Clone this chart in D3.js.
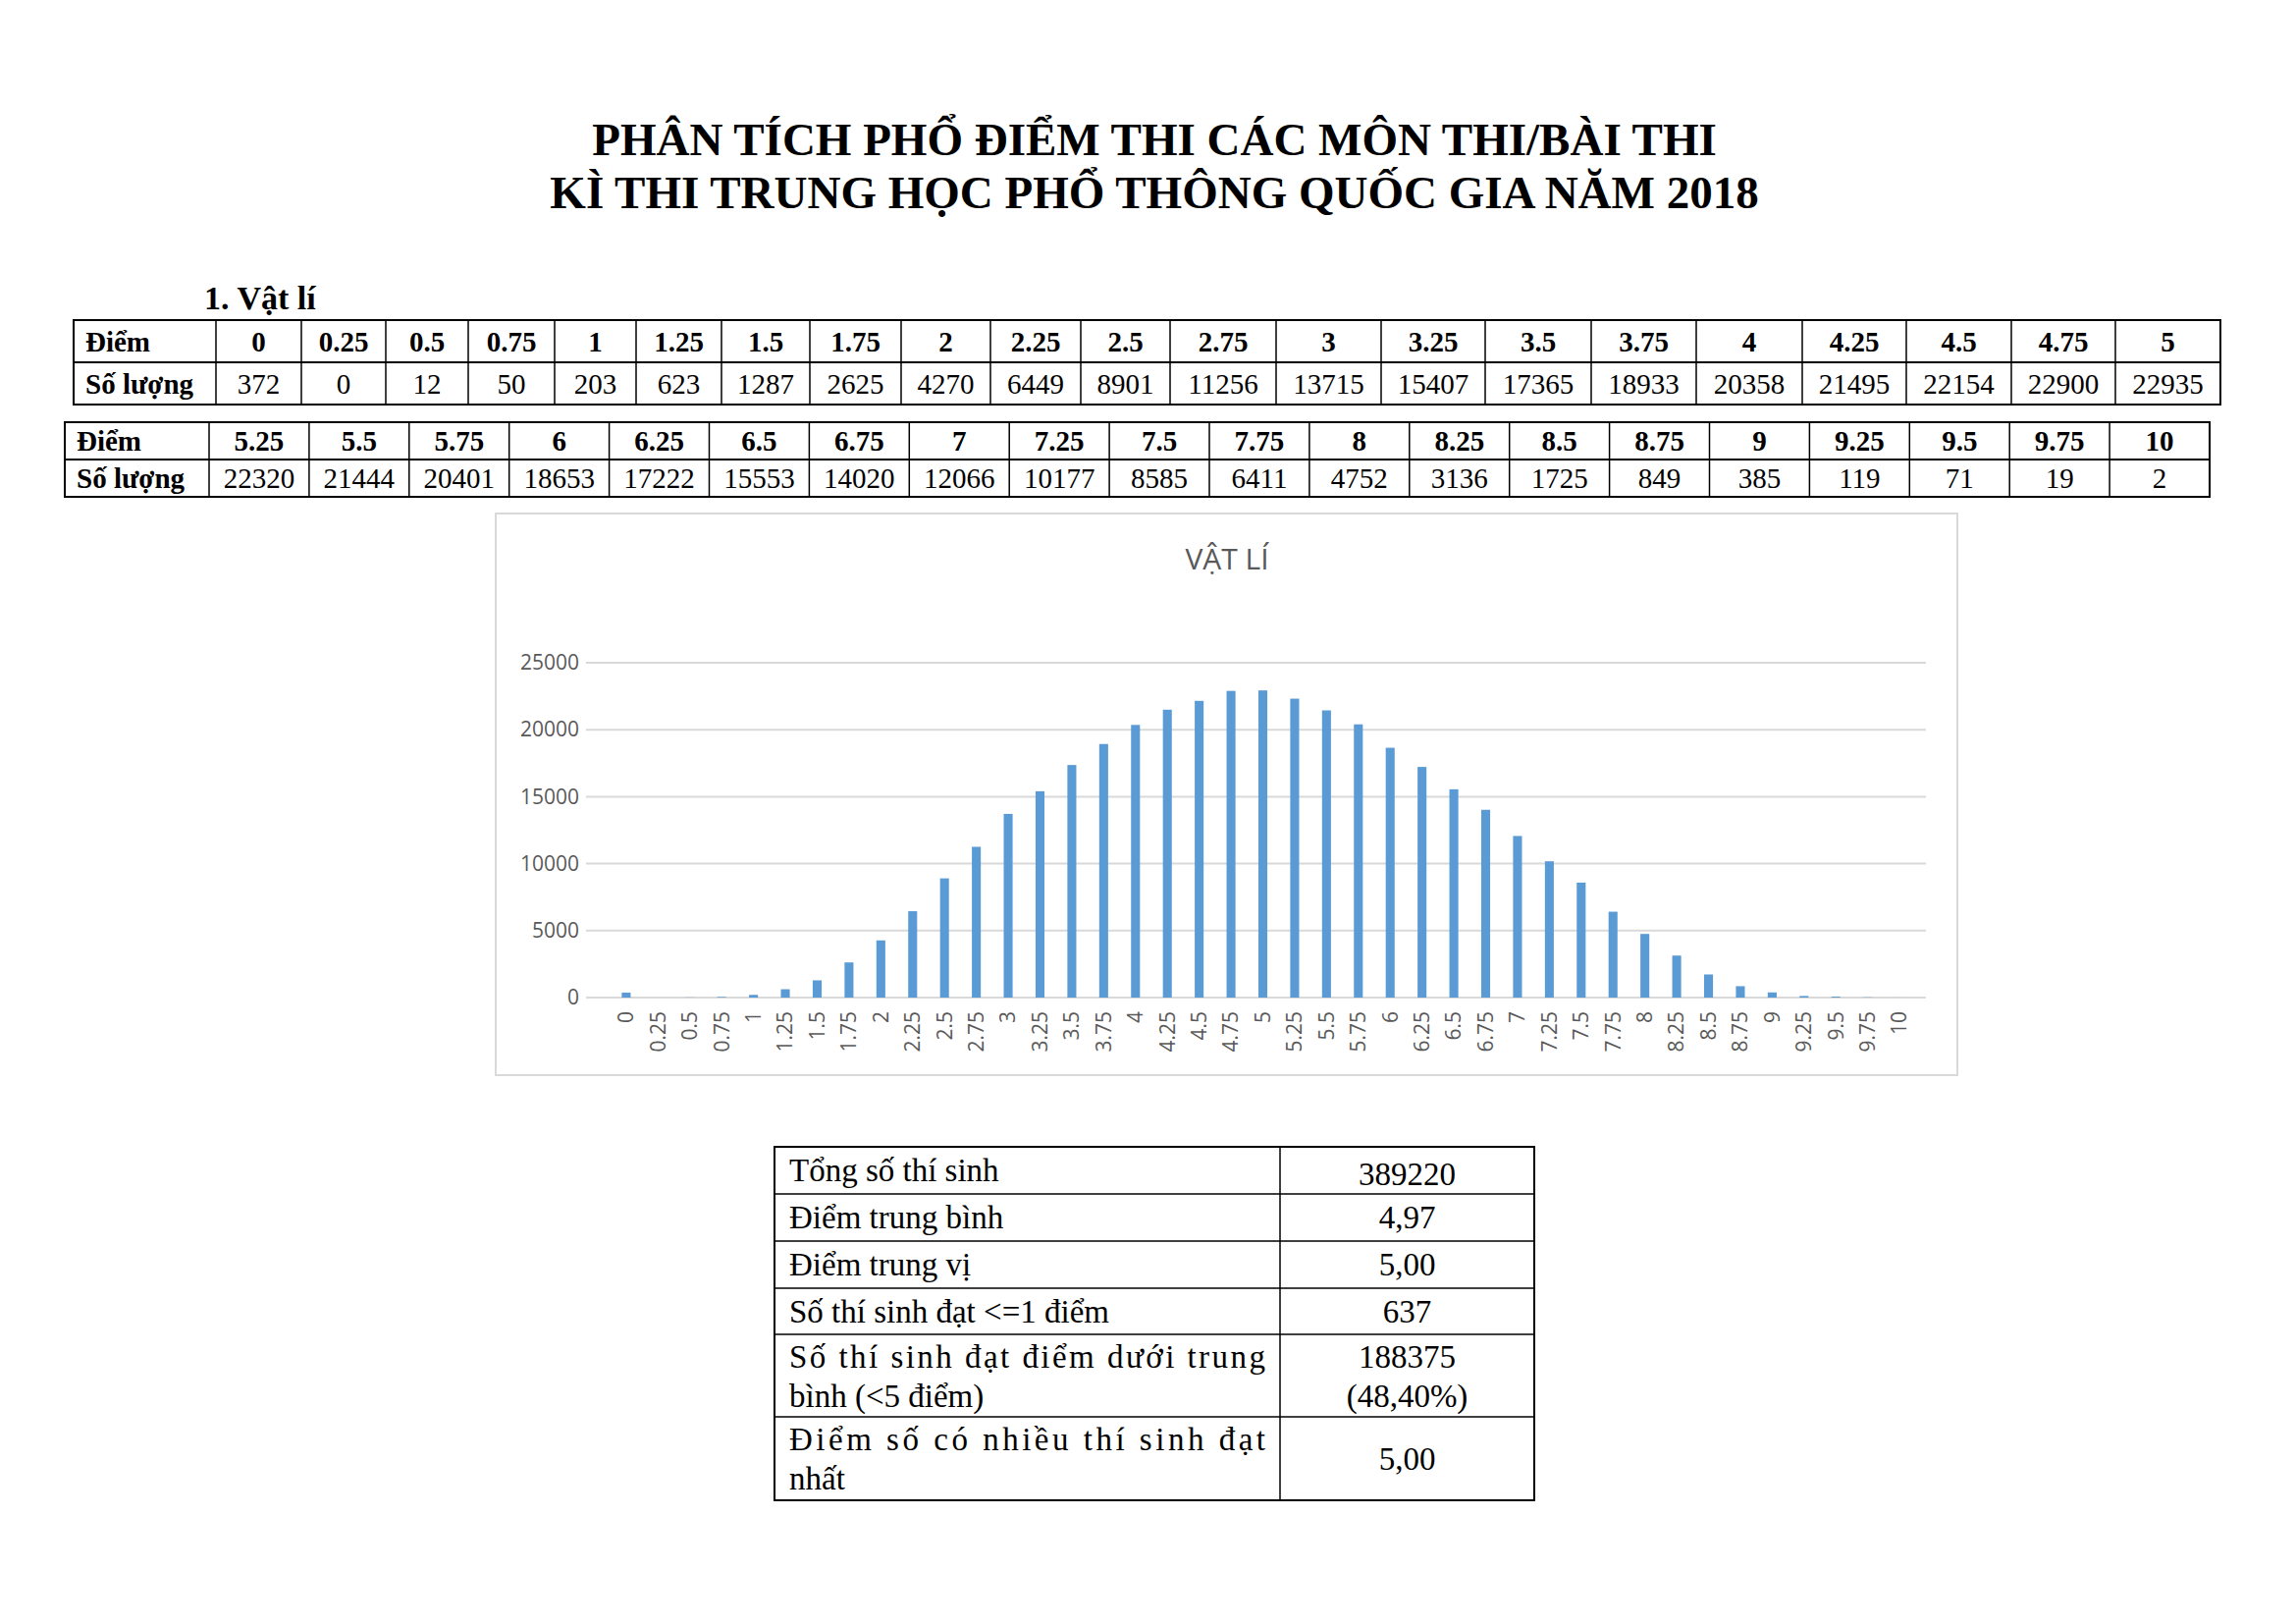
<!DOCTYPE html>
<html><head><meta charset="utf-8">
<script src="https://cdn.jsdelivr.net/npm/d3@7"></script>
<style>body{margin:0;background:#fff}</style>
</head><body>
<div id="page"></div>
<script>
var scores = ["0","0.25","0.5","0.75","1","1.25","1.5","1.75","2","2.25","2.5","2.75","3","3.25","3.5","3.75","4","4.25","4.5","4.75","5",
  "5.25","5.5","5.75","6","6.25","6.5","6.75","7","7.25","7.5","7.75","8","8.25","8.5","8.75","9","9.25","9.5","9.75","10"];
var counts = [372,0,12,50,203,623,1287,2625,4270,6449,8901,11256,13715,15407,17365,18933,20358,21495,22154,22900,22935,
  22320,21444,20401,18653,17222,15553,14020,12066,10177,8585,6411,4752,3136,1725,849,385,119,71,19,2];
var yTicks = [0,5000,10000,15000,20000,25000];
var titleLines = ["PHÂN TÍCH PHỔ ĐIỂM THI CÁC MÔN THI/BÀI THI","KÌ THI TRUNG HỌC PHỔ THÔNG QUỐC GIA NĂM 2018"];
var statLabels = [["Tổng số thí sinh"],["Điểm trung bình"],["Điểm trung vị"],["Số thí sinh đạt <=1 điểm"],
  ["Số thí sinh đạt điểm dưới trung","bình (<5 điểm)"],["Điểm số có nhiều thí sinh đạt","nhất"]];
var statValues = [["389220"],["4,97"],["5,00"],["637"],["188375","(48,40%)"],["5,00"]];

var W = 2339, H = 1654, serif = "'Liberation Serif','Times New Roman',serif";
var svg = d3.select("#page").append("svg").attr("width", W).attr("height", H);

svg.selectAll("text.title").data(titleLines).join("text")
  .attr("x", 1176).attr("y", function(d,i){ return 158 + i*54; })
  .attr("text-anchor","middle").attr("font-family", serif).attr("font-weight","bold")
  .attr("font-size", 47).text(function(d){ return d; });

svg.append("text").attr("x", 208).attr("y", 315).attr("font-family", serif)
  .attr("font-weight","bold").attr("font-size", 34).text("1.  Vật lí");

// score tables
function scoreTable(edges, top, rowH, labels, vals) {
  var g = svg.append("g");
  var x0 = edges[0], x1 = edges[edges.length-1];
  g.append("rect").attr("x", x0).attr("y", top).attr("width", x1-x0).attr("height", rowH*2)
    .attr("fill","none").attr("stroke","#000").attr("stroke-width",2);
  g.append("line").attr("x1",x0).attr("x2",x1).attr("y1",top+rowH).attr("y2",top+rowH).attr("stroke","#000").attr("stroke-width",2);
  edges.slice(1,-1).forEach(function(e){
    g.append("line").attr("x1",e).attr("x2",e).attr("y1",top).attr("y2",top+rowH*2).attr("stroke","#000").attr("stroke-width",1.5);
  });
  var row1 = ["Điểm"].concat(labels), row2 = ["Số lượng"].concat(vals);
  [row1,row2].forEach(function(row, r){
    row.forEach(function(t, i){
      var first = i === 0;
      g.append("text")
        .attr("x", first ? edges[0]+12 : (edges[i]+edges[i+1])/2)
        .attr("y", top + r*rowH + rowH*0.75)
        .attr("text-anchor", first ? "start" : "middle")
        .attr("font-family", serif).attr("font-size", 29)
        .attr("font-weight", (r===0 || first) ? "bold" : "normal")
        .text(t);
    });
  });
}
var e1 = [75,220,307,393,477,565,648,735,825,918,1009,1101,1192,1300,1407,1513,1621,1728,1836,1942,2049,2155,2262];
var e2 = [66].concat(d3.range(21).map(function(i){ return 213 + i*(2251-213)/20; }));
scoreTable(e1, 326, 43, scores.slice(0,21), counts.slice(0,21));
scoreTable(e2, 430, 38, scores.slice(21), counts.slice(21));

// chart
svg.append("rect").attr("x",505).attr("y",523).attr("width",1489).attr("height",572)
  .attr("fill","#fff").attr("stroke","#d9d9d9").attr("stroke-width",2);
svg.append("text").attr("x",1250).attr("y",580).attr("text-anchor","middle")
  .attr("font-family","'Open Sans','Noto Sans',sans-serif").attr("font-size",30).attr("fill","#595959").text("VẬT LÍ");

var x = d3.scaleBand().domain(scores).range([610,1963]).padding(0.72);
var y = d3.scaleLinear().domain([0,25000]).range([1016,675]);

svg.append("g").selectAll("line").data(yTicks).join("line")
  .attr("x1",597).attr("x2",1962).attr("y1",function(d){return y(d);}).attr("y2",function(d){return y(d);})
  .attr("stroke","#d9d9d9").attr("stroke-width",2);

svg.append("g").selectAll("rect").data(counts).join("rect")
  .attr("x",function(d,i){return x(scores[i]);}).attr("width",x.bandwidth())
  .attr("y",function(d){return y(d);}).attr("height",function(d){return y(0)-y(d);})
  .attr("fill","#5b9bd5");

var yAxis = svg.append("g").attr("transform","translate(590,0)")
  .call(d3.axisLeft(y).tickValues(yTicks).tickFormat(d3.format("d")).tickSize(0).tickPadding(0));
yAxis.select(".domain").remove();
yAxis.selectAll("text").attr("font-family","'Open Sans','Noto Sans',sans-serif").attr("font-size",21).attr("fill","#595959");

var xAxis = svg.append("g").attr("transform","translate(0,1016)")
  .call(d3.axisBottom(x).tickSize(0).tickPadding(0));
xAxis.select(".domain").remove();
xAxis.selectAll("text").attr("font-family","'Open Sans','Noto Sans',sans-serif").attr("font-size",21).attr("fill","#595959")
  .attr("transform","rotate(-90)").attr("text-anchor","end").attr("dy","0.35em").attr("x",-14).attr("y",0);

// stats table
var sx = [789,1304,1563], sy = [1168,1216,1264,1312,1359,1443,1528];
var sg = svg.append("g");
sg.append("rect").attr("x",sx[0]).attr("y",sy[0]).attr("width",sx[2]-sx[0]).attr("height",sy[6]-sy[0])
  .attr("fill","none").attr("stroke","#000").attr("stroke-width",2);
sg.append("line").attr("x1",sx[1]).attr("x2",sx[1]).attr("y1",sy[0]).attr("y2",sy[6]).attr("stroke","#000").attr("stroke-width",1.5);
sy.slice(1,-1).forEach(function(v){
  sg.append("line").attr("x1",sx[0]).attr("x2",sx[2]).attr("y1",v).attr("y2",v).attr("stroke","#000").attr("stroke-width",1.5);
});
statLabels.forEach(function(lines, r){
  var h = sy[r+1]-sy[r], n = lines.length;
  lines.forEach(function(t, k){
    var tx = sg.append("text").attr("x", sx[0]+15)
      .attr("y", sy[r] + (n===1 ? h/2+11 : 34 + k*40))
      .attr("font-family", serif).attr("font-size", 33).text(t);
    if (n > 1 && k < n-1) tx.attr("textLength", sx[1]-sx[0]-30).attr("lengthAdjust","spacing");
  });
  statValues[r].forEach(function(t, k){
    var m = statValues[r].length;
    sg.append("text").attr("x",(sx[1]+sx[2])/2)
      .attr("y", sy[r] + (m===1 ? h/2+11 + (r===0?4:0) : 34 + k*40))
      .attr("text-anchor","middle").attr("font-family", serif).attr("font-size", 33).text(t);
  });
});
</script>
</body></html>
